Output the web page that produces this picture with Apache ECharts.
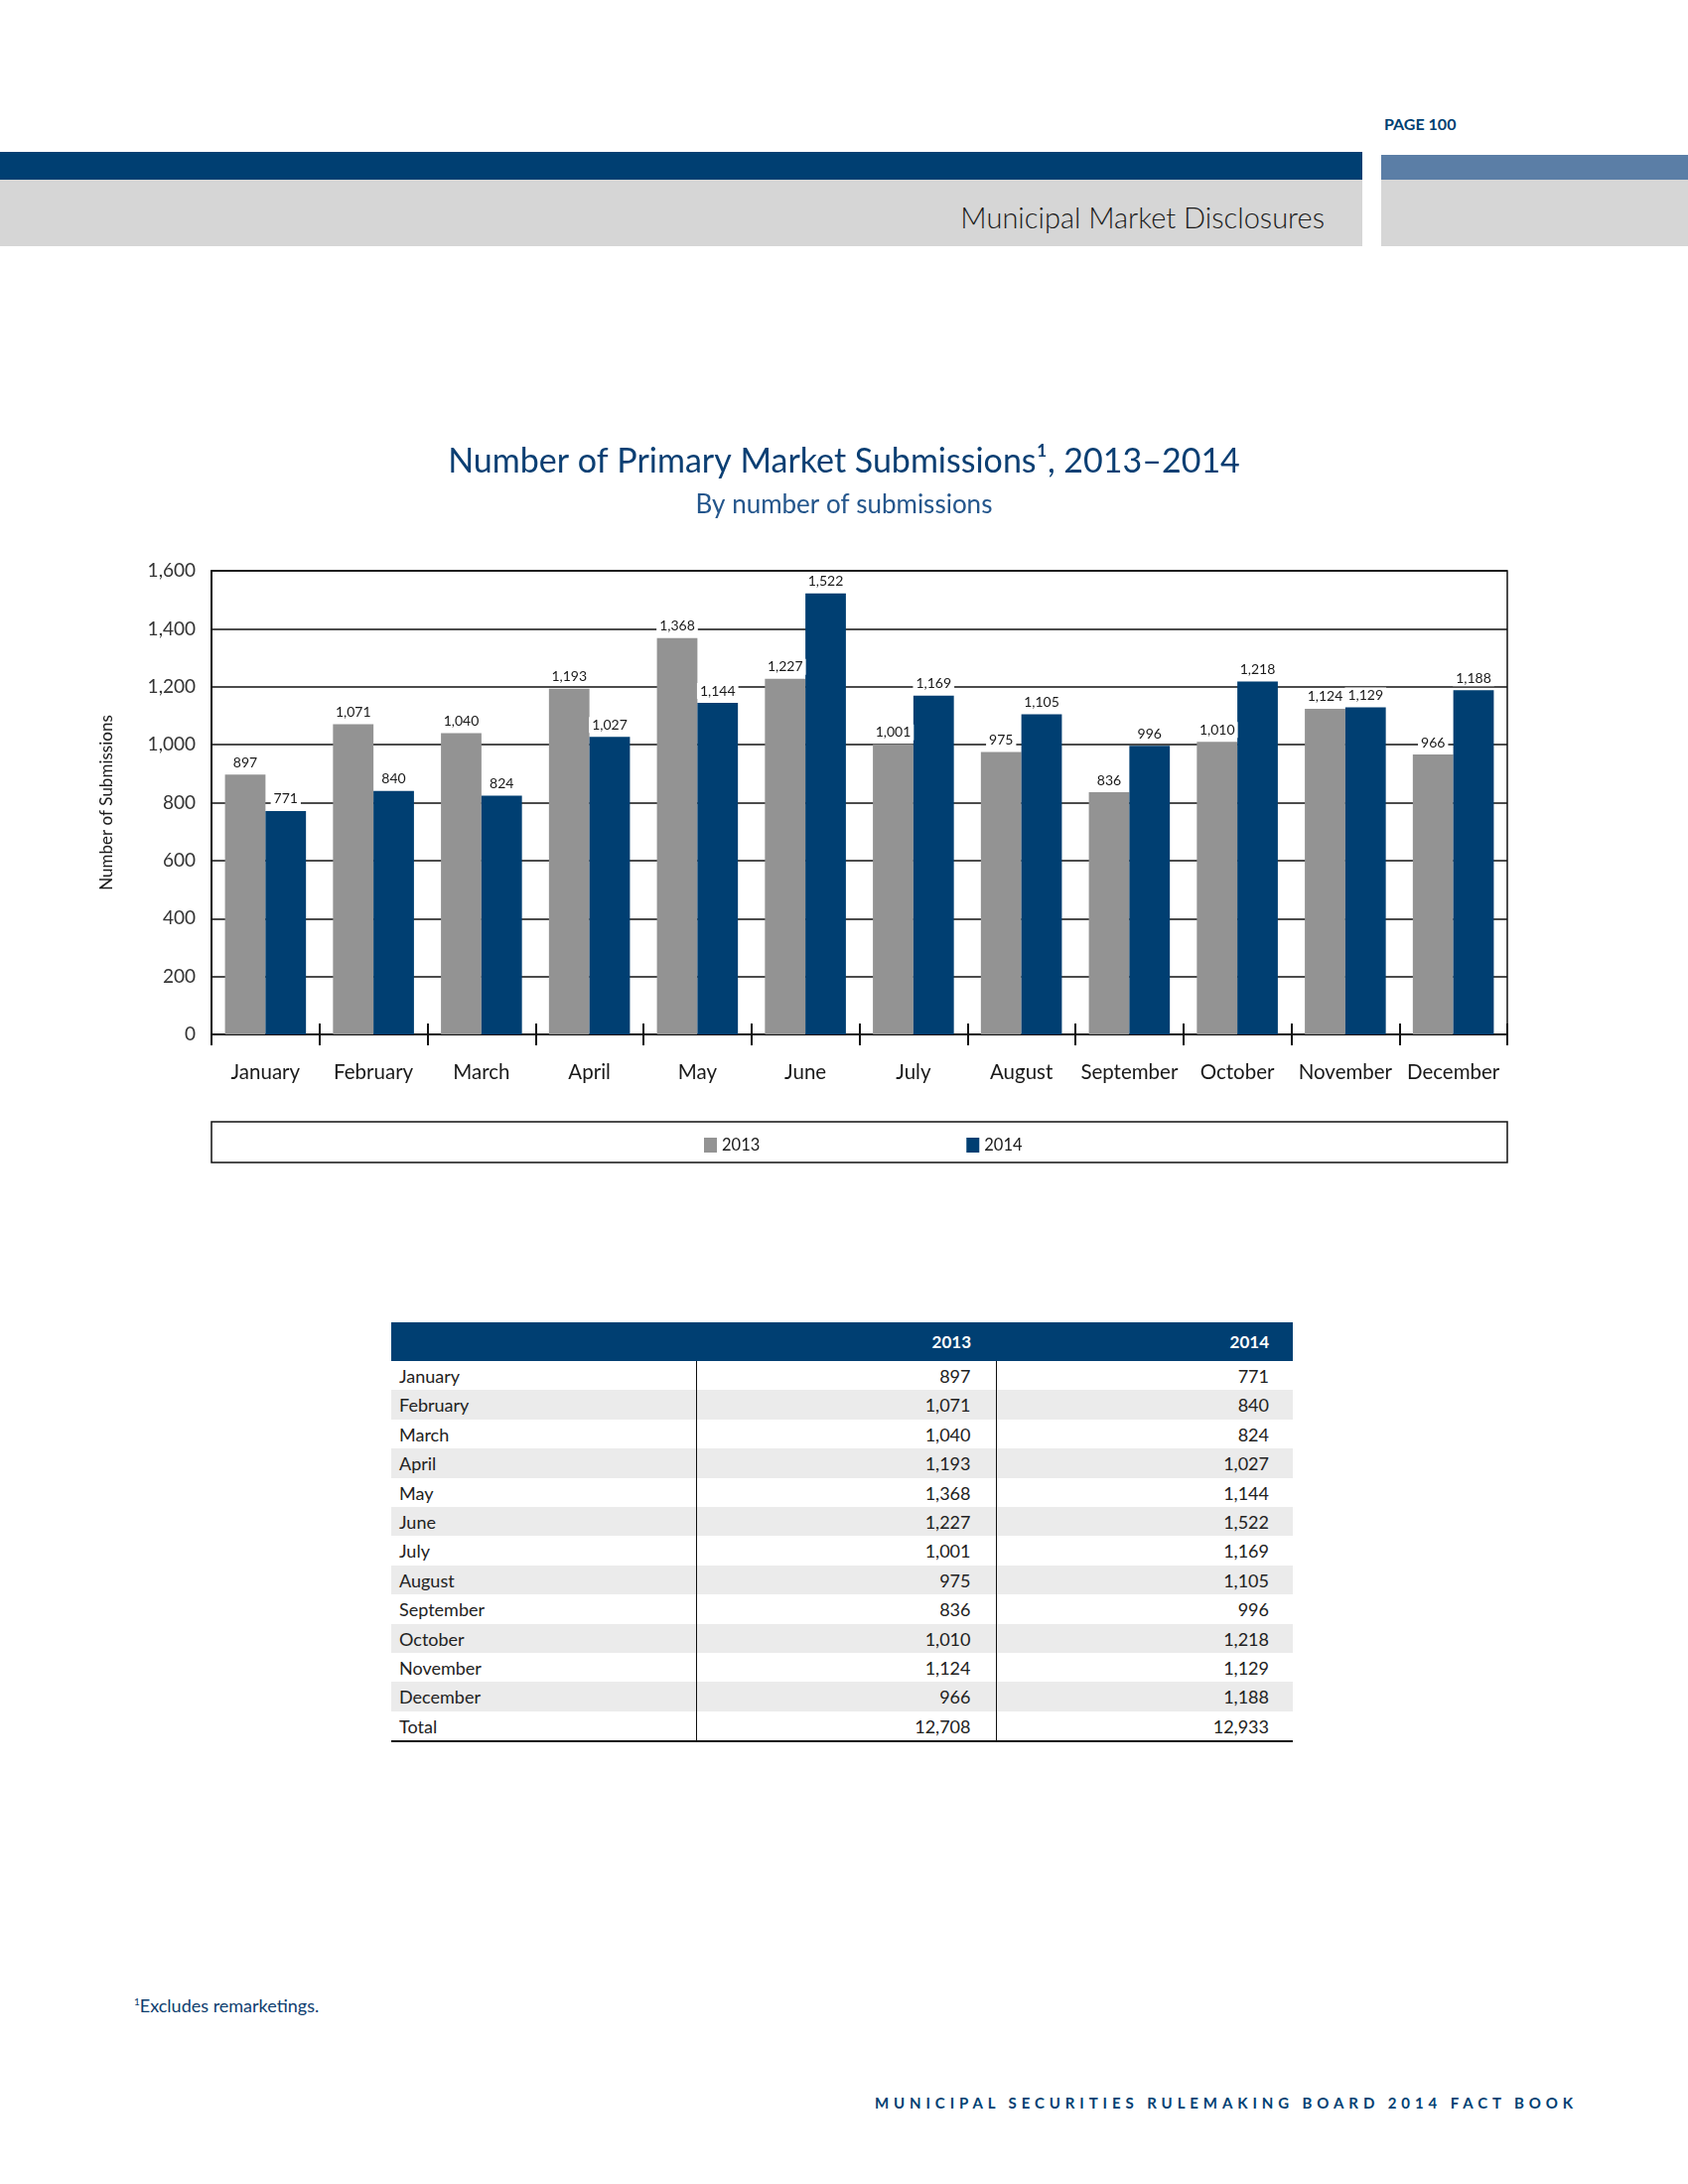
<!DOCTYPE html>
<html>
<head>
<meta charset="utf-8">
<script src="https://cdn.jsdelivr.net/npm/echarts@6/dist/echarts.min.js"></script>
<style>
  html, body { margin:0; padding:0; background:#fff; }
  body { width:1700px; height:2200px; position:relative; font-family: Lato, "Noto Sans", sans-serif; overflow:hidden; }
  .abs { position:absolute; }
  #chart { position:absolute; left:0; top:400px; width:1700px; height:800px; }
  table { border-collapse:collapse; table-layout:fixed; font-family:Lato, sans-serif; font-size:18px; color:#222; }
  td { padding:2px 0 0 0; line-height:27.4px; }
  tr.r { height:29.4px; }
</style>
</head>
<body>
<div class="abs" style="left:1394px;top:115px;font-size:16px;font-weight:bold;color:#003f72;">PAGE 100</div>
<div class="abs" style="left:0;top:153px;width:1372px;height:28px;background:#003f72;"></div>
<div class="abs" style="left:1391px;top:156px;width:309px;height:25px;background:#5b7ea6;"></div>
<div class="abs" style="left:0;top:181px;width:1372px;height:67px;background:#d6d6d6;"></div>
<div class="abs" style="left:1391px;top:181px;width:309px;height:67px;background:#d6d6d6;"></div>
<div class="abs" style="left:700px;width:634px;top:201px;text-align:right;font-size:29px;color:#1a1a1a;font-weight:300;">Municipal Market Disclosures</div>

<div id="chart"></div>

<div class="abs" id="tbl" style="left:394px;top:1332px;width:908px;"></div>

<div class="abs" style="left:135px;top:2009px;font-size:18px;color:#0e3d6e;"><sup style="font-size:10px;">1</sup>Excludes remarketings.</div>
<div class="abs" style="left:700px;width:889px;top:2109px;text-align:right;font-size:15px;font-weight:bold;color:#003f72;letter-spacing:4.9px;">MUNICIPAL SECURITIES RULEMAKING BOARD 2014 FACT BOOK</div>

<script>
const months = ['January','February','March','April','May','June','July','August','September','October','November','December'];
const values2013 = [897, 1071, 1040, 1193, 1368, 1227, 1001, 975, 836, 1010, 1124, 966];
const values2014 = [771, 840, 824, 1027, 1144, 1522, 1169, 1105, 996, 1218, 1129, 1188];
const seriesNames = ['2013', '2014'];
const yTicks = { min: 0, max: 1600, interval: 200 };

const fmt = v => v.toLocaleString('en-US');

// Table
(function () {
  let html = '<table style="width:908px;"><colgroup><col style="width:307px"><col style="width:302px"><col style="width:299px"></colgroup>';
  html += '<tr style="background:#003f72;color:#fff;font-weight:bold;height:39px;">' +
    '<th style="padding:0;line-height:39px;font-size:17px;"></th>' +
    '<th style="text-align:right;padding:0 25px 0 0;line-height:39px;font-size:17px;">' + seriesNames[0] + '</th>' +
    '<th style="text-align:right;padding:0 24px 0 0;line-height:39px;font-size:17px;">' + seriesNames[1] + '</th></tr>';
  const rows = months.map((m, i) => [m, values2013[i], values2014[i]]);
  rows.push(['Total', values2013.reduce((a, b) => a + b, 0), values2014.reduce((a, b) => a + b, 0)]);
  rows.forEach((r, i) => {
    const bg = (i % 2 === 1) ? '#ebebeb' : '#fff';
    const last = i === rows.length - 1;
    const bb = last ? 'border-bottom:2px solid #111;' : '';
    html += '<tr class="r" style="background:' + bg + ';">' +
      '<td style="padding-left:8px;' + bb + '">' + r[0] + '</td>' +
      '<td style="text-align:right;padding-right:25px;border-left:1.5px solid #111;border-right:1.5px solid #111;' + bb + '">' + fmt(r[1]) + '</td>' +
      '<td style="text-align:right;padding-right:24px;' + bb + '">' + fmt(r[2]) + '</td></tr>';
  });
  html += '</table>';
  document.getElementById('tbl').innerHTML = html;
})();

const chart = echarts.init(document.getElementById('chart'), null, { renderer: 'canvas' });
const FONT = 'Lato';
const labelOpt = {
  show: true,
  position: 'top',
  distance: 4,
  formatter: p => fmt(p.value),
  fontFamily: FONT,
  fontSize: 14,
  color: '#1a1a1a',
  backgroundColor: '#fff',
  padding: [1, 3]
};
chart.setOption({
  animation: false,
  textStyle: { fontFamily: FONT },
  title: [
    { text: 'Number of Primary Market Submissions\u00b9, 2013\u20132014', left: 'center', top: 43,
      textStyle: { fontFamily: FONT, fontSize: 34, fontWeight: 'normal', color: '#0b3f73' } },
    { text: 'By number of submissions', left: 'center', top: 91,
      textStyle: { fontFamily: FONT, fontSize: 26, fontWeight: 'normal', color: '#24568c' } }
  ],
  legend: {
    data: seriesNames,
    left: 704,
    top: 740,
    icon: 'rect',
    itemWidth: 13,
    itemHeight: 15,
    itemGap: 208,
    textStyle: { fontFamily: FONT, fontSize: 16.5, color: '#1a1a1a' }
  },
  grid: { left: 213, right: 182, top: 175, height: 467, show: true, borderColor: '#111', borderWidth: 1.5, backgroundColor: 'transparent' },
  xAxis: [
    {
      type: 'category', data: months, boundaryGap: true,
      axisLine: { lineStyle: { color: '#111', width: 2 } },
      axisTick: { show: true, interval: 0, length: 11, lineStyle: { color: '#111', width: 2 } },
      axisLabel: { interval: 0, fontFamily: FONT, fontSize: 20.5, color: '#1a1a1a', margin: 28 }
    },
    {
      type: 'category', data: months, boundaryGap: true, position: 'bottom', gridIndex: 0,
      axisLine: { show: false },
      axisTick: { show: true, interval: 0, inside: true, length: 11, lineStyle: { color: '#111', width: 2 } },
      axisLabel: { show: false }
    }
  ],
  yAxis: {
    type: 'value', min: yTicks.min, max: yTicks.max, interval: yTicks.interval,
    name: 'Number of Submissions', nameLocation: 'middle', nameGap: 97, nameRotate: 90,
    nameTextStyle: { fontFamily: FONT, fontSize: 17, color: '#1a1a1a' },
    axisLine: { show: true, lineStyle: { color: '#111', width: 2 } },
    axisTick: { show: false },
    axisLabel: { fontFamily: FONT, fontSize: 19, color: '#333', margin: 16, formatter: v => fmt(v) },
    splitLine: { show: true, lineStyle: { color: '#111', width: 1.5 } }
  },
  series: [
    { name: seriesNames[0], type: 'bar', data: values2013, barGap: 0, barCategoryGap: '25%',
      itemStyle: { color: '#939393' }, label: labelOpt },
    { name: seriesNames[1], type: 'bar', data: values2014, barGap: 0, barCategoryGap: '25%',
      itemStyle: { color: '#003f72' }, label: labelOpt }
  ],
  graphic: [
    { type: 'rect', shape: { x: 213, y: 730, width: 1305, height: 41 }, silent: true, z: -1,
      style: { fill: '#fff', stroke: '#111', lineWidth: 1.5 } }
  ]
});
</script>
</body>
</html>
